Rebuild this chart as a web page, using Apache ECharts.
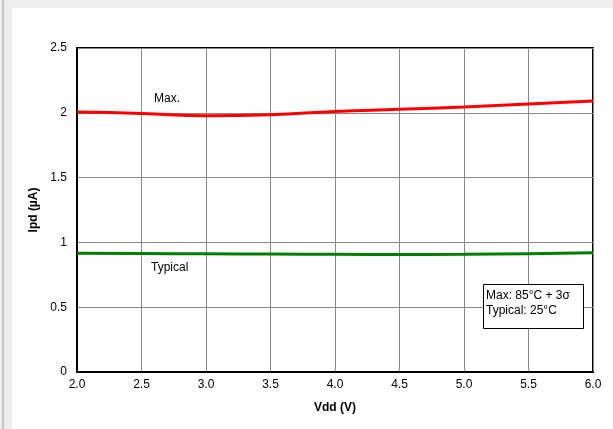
<!DOCTYPE html>
<html>
<head>
<meta charset="utf-8">
<script src="https://cdn.jsdelivr.net/npm/echarts@6/dist/echarts.min.js"></script>
<style>
  html, body { margin: 0; padding: 0; background: #eeeeee; }
  #frame { position: absolute; left: 2px; top: 0; width: 611px; height: 429px; border-left: 2px solid #c4c4c4; }
  #panel { position: absolute; left: 12px; top: 8px; right: 0; bottom: 0; background: #ffffff; }
  #chart { position: absolute; left: 0; top: 0; width: 613px; height: 429px; }
</style>
</head>
<body>
<div id="frame"></div>
<div id="panel"></div>
<div id="chart"></div>
<script>
var vdd = [2.0, 2.5, 3.0, 3.5, 4.0, 4.5, 5.0, 5.5, 6.0];
var maxIpd = [2.006, 1.995, 1.977, 1.985, 2.01, 2.027, 2.045, 2.068, 2.092];
var typIpd = [0.916, 0.914, 0.912, 0.91, 0.908, 0.907, 0.908, 0.913, 0.92];

var myChart = echarts.init(document.getElementById("chart"));

function pairs(ys) {
  return vdd.map(function (x, i) { return [x, ys[i]]; });
}

var font = "Liberation Sans, Arial, sans-serif";

var option = {
  animation: false,
  backgroundColor: "transparent",
  textStyle: { fontFamily: font },
  grid: {
    left: 77,
    right: 20,
    top: 48,
    bottom: 57,
    show: true,
    borderColor: "#000",
    borderWidth: 2,
  },
  xAxis: {
    type: "value",
    min: 2,
    max: 6,
    interval: 0.5,
    name: "Vdd (V)",
    nameLocation: "middle",
    nameGap: 30,
    nameTextStyle: { color: "#000", fontWeight: "bold", fontSize: 12, fontFamily: font },
    axisLine: { show: true, lineStyle: { color: "#000", width: 2 } },
    axisTick: { show: false },
    axisLabel: {
      color: "#000",
      fontSize: 12,
      margin: 7,
      fontFamily: font,
      formatter: function (v) { return v.toFixed(1); },
    },
    splitLine: { show: true, lineStyle: { color: "#8a8a8a", width: 1 } },
  },
  yAxis: {
    type: "value",
    min: 0,
    max: 2.5,
    interval: 0.5,
    name: "Ipd (µA)",
    nameLocation: "middle",
    nameGap: 29,
    nameTextStyle: { color: "#000", fontWeight: "bold", fontSize: 12, fontFamily: font },
    axisLine: { show: true, lineStyle: { color: "#000", width: 2 } },
    axisTick: { show: false },
    axisLabel: { color: "#000", fontSize: 12, margin: 10, fontFamily: font },
    splitLine: { show: true, lineStyle: { color: "#8a8a8a", width: 1 } },
  },
  series: [
    {
      name: "Max.",
      type: "line",
      data: pairs(maxIpd),
      smooth: true,
      showSymbol: false,
      lineStyle: { color: "#ff0000", width: 3 },
      z: 3,
    },
    {
      name: "Typical",
      type: "line",
      data: pairs(typIpd),
      smooth: true,
      showSymbol: false,
      lineStyle: { color: "#008000", width: 3 },
      z: 3,
    },
  ],
  graphic: [
    {
      type: "text",
      left: 154,
      top: 93,
      z: 100,
      style: { text: "Max.", fill: "#000", font: "12px " + font },
    },
    {
      type: "text",
      left: 151,
      top: 262,
      z: 100,
      style: { text: "Typical", fill: "#000", font: "12px " + font },
    },
    {
      type: "rect",
      left: 483,
      top: 284,
      z: 100,
      shape: { x: 0, y: 0, width: 100, height: 44 },
      style: { fill: "#fff", stroke: "#000", lineWidth: 1 },
    },
    {
      type: "text",
      left: 486,
      top: 288,
      z: 101,
      style: {
        text: "Max: 85°C + 3σ\nTypical: 25°C",
        fill: "#000",
        font: "12px " + font,
        lineHeight: 15,
      },
    },
  ],
};

myChart.setOption(option);
</script>
</body>
</html>
